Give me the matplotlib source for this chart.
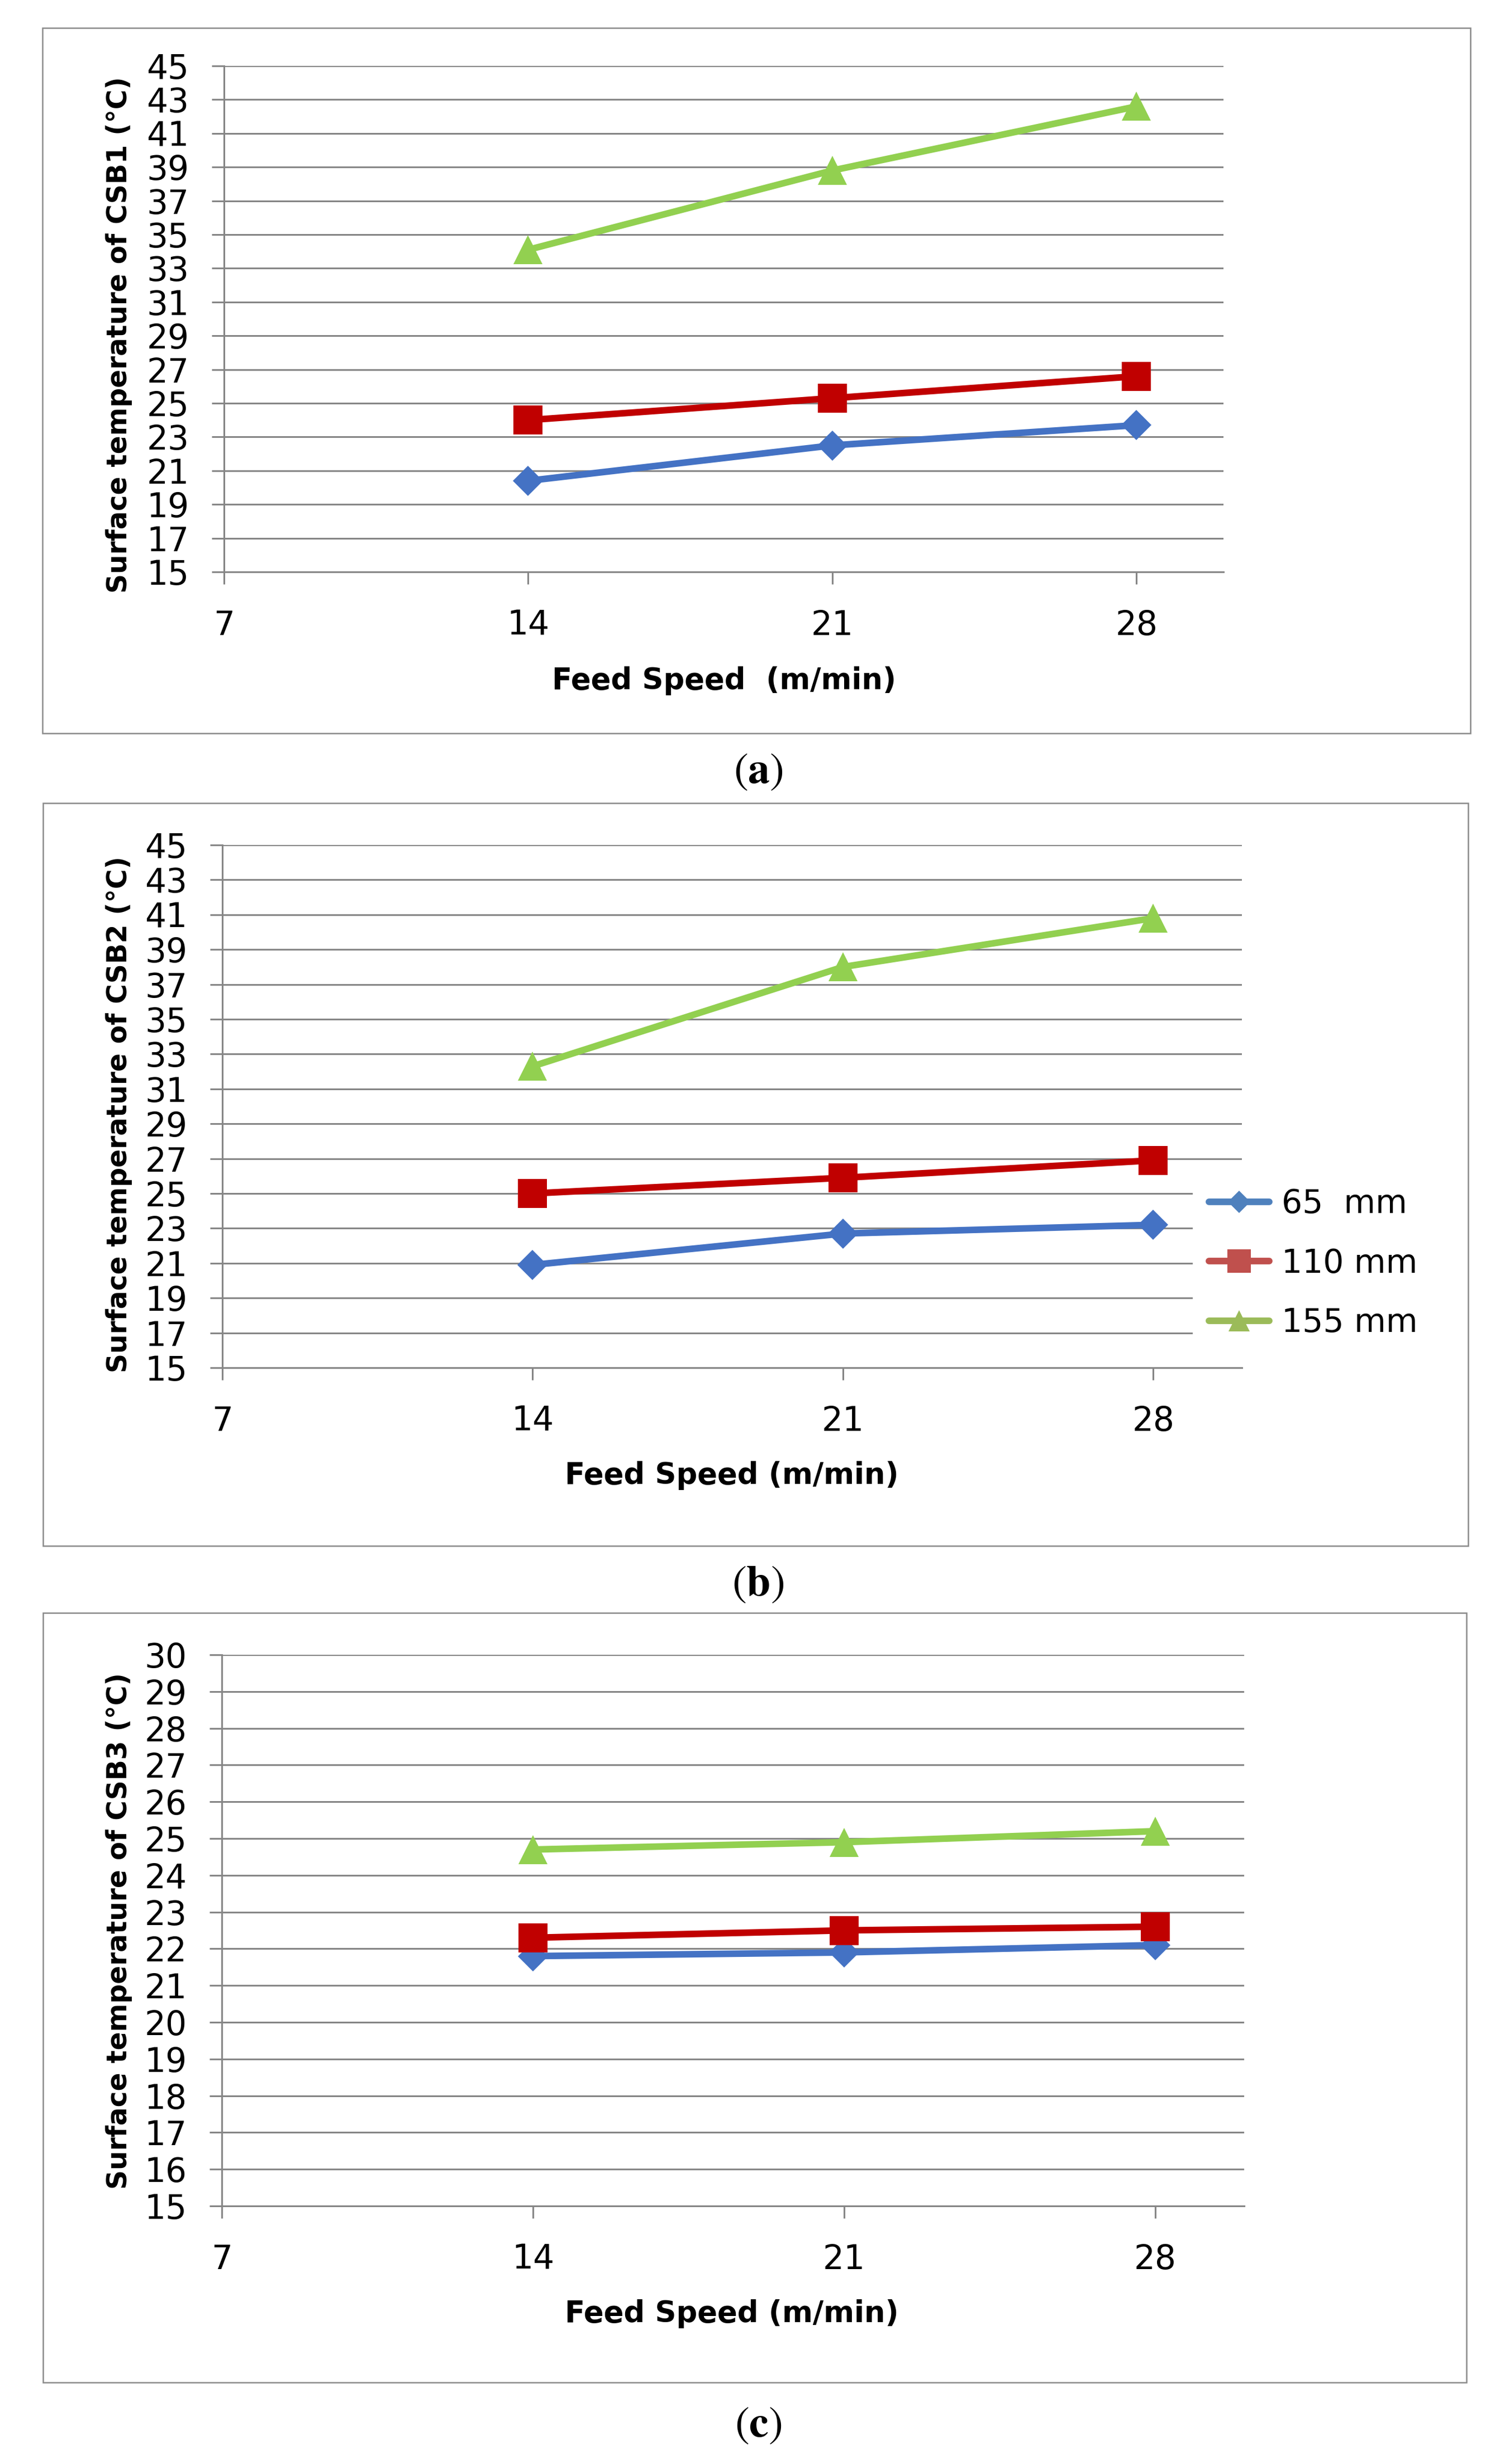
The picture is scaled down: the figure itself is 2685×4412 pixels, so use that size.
import matplotlib as mpl
mpl.use('Agg')
from matplotlib import pyplot as plt
from matplotlib.patches import Rectangle
from matplotlib.lines import Line2D

##########################################################################################
# data

# feed speed (m/min)
speed = [14, 21, 28]

# surface temperature (deg C) for the three distances
csb1_65 = [20.4, 22.5, 23.7]
csb1_110 = [24.0, 25.3, 26.6]
csb1_155 = [34.1, 38.8, 42.6]

csb2_65 = [20.9, 22.7, 23.2]
csb2_110 = [25.0, 25.9, 26.9]
csb2_155 = [32.3, 38.0, 40.8]

csb3_65 = [21.8, 21.9, 22.1]
csb3_110 = [22.3, 22.5, 22.6]
csb3_155 = [24.7, 24.9, 25.2]

series_labels = ['65  mm', '110 mm', '155 mm']
xticks = [7, 14, 21, 28]
yticks_ab = list(range(15, 46, 2))
yticks_c = list(range(15, 31))

##########################################################################################
# styling

W, H = 2685, 4412
DPI = 100

mpl.rcParams['mathtext.fontset'] = 'stix'

gray = '#868686'
lineColors = ['#4472C4', '#C00000', '#92D050']
legColors = ['#4F81BD', '#C0504D', '#9BBB59']
markers = ['D', 's', '^']
markerSizes = [27, 37, 38]
legMarkerSizes = [20, 30, 28]

narrow = ['Liberation Sans Narrow', 'DejaVu Sans Condensed', 'DejaVu Sans']


def fig_rect(x0, y0, x1, y1):
    # pixel box (top-left origin) -> figure fraction [l, b, w, h]
    return [x0 / W, 1.0 - y1 / H, (x1 - x0) / W, (y1 - y0) / H]


panels = [
    dict(ax=(401, 118, 2190, 1024), box=(76, 50, 2632, 1313),
         series=[csb1_65, csb1_110, csb1_155], ylim=(15, 45), yticks=yticks_ab,
         ylabel='Surface temperature of CSB1 (°C)', ylabelY=600,
         xlabel='Feed Speed  (m/min)', xlabelXY=(1296, 1219),
         caption=r'$(\mathbf{a})$', captionY=1380, legend=False),
    dict(ax=(398, 1513, 2223, 2449), box=(77, 1438, 2628, 2768),
         series=[csb2_65, csb2_110, csb2_155], ylim=(15, 45), yticks=yticks_ab,
         ylabel='Surface temperature of CSB2 (°C)', ylabelY=1996,
         xlabel='Feed Speed (m/min)', xlabelXY=(1310, 2642),
         caption=r'$(\mathbf{b})$', captionY=2835, legend=True),
    dict(ax=(397, 2963, 2227, 3950), box=(77, 2888, 2625, 4266),
         series=[csb3_65, csb3_110, csb3_155], ylim=(15, 30), yticks=yticks_c,
         ylabel='Surface temperature of CSB3 (°C)', ylabelY=3458,
         xlabel='Feed Speed (m/min)', xlabelXY=(1310, 4143),
         caption=r'$(\mathbf{c})$', captionY=4341, legend=False),
]

fig = plt.figure(figsize=(W / DPI, H / DPI), dpi=DPI)

for p in panels:
    ######################################################################################
    # outer frame of the chart
    x0, y0, x1, y1 = p['box']
    l, b, w, h = fig_rect(x0, y0, x1, y1)
    fig.add_artist(Rectangle((l, b), w, h, transform=fig.transFigure,
                             fill=False, edgecolor='#8a8a8a', lw=1.8))

    ax = fig.add_axes(fig_rect(*p['ax']))

    for vals, c, m, ms, lab in zip(p['series'], lineColors, markers, markerSizes,
                                   series_labels):
        ax.plot(speed, vals, color=c, lw=8.5, marker=m, ms=ms,
                markeredgewidth=0, label=lab, zorder=3, clip_on=False)

    ax.set_xlim(7, 30)
    ax.set_ylim(*p['ylim'])
    ax.set_xticks(xticks)
    ax.set_yticks(p['yticks'])

    ax.spines['top'].set_visible(False)
    ax.spines['right'].set_visible(False)
    for s in ['left', 'bottom']:
        ax.spines[s].set_color(gray)
        ax.spines[s].set_linewidth(2.2)

    ax.yaxis.grid(True, color=gray, lw=2.2)
    ax.set_axisbelow(True)

    ax.tick_params(axis='y', direction='out', length=16, width=2.2, color=gray,
                   pad=29, labelsize=43)
    ax.tick_params(axis='x', direction='out', length=16, width=2.2, color=gray,
                   pad=32, labelsize=43)
    for lab in ax.get_xticklabels() + ax.get_yticklabels():
        lab.set_family(narrow)

    ######################################################################################
    # labels
    fig.text(213 / W, 1 - p['ylabelY'] / H, p['ylabel'], rotation=90,
             ha='center', va='center', fontsize=35, fontweight='bold',
             family='DejaVu Sans')
    fx, fy = p['xlabelXY']
    fig.text(fx / W, 1 - fy / H, p['xlabel'], ha='center', va='center',
             fontsize=38, fontweight='bold', family=narrow)
    fig.text(1357 / W, 1 - p['captionY'] / H, p['caption'], ha='center',
             va='center', fontsize=56)

    ######################################################################################
    # legend (only in the middle chart)
    if p['legend']:
        handles = [Line2D([], [], color=c, lw=8.5, marker=m, ms=ms,
                          markeredgewidth=0, solid_capstyle='round')
                   for c, m, ms in zip(legColors, markers, legMarkerSizes)]
        fig.legend(handles, series_labels, loc='center left',
                   bbox_to_anchor=(2135 / W, 1 - 2262 / H),
                   bbox_transform=fig.transFigure, frameon=True,
                   facecolor='white', edgecolor='none', framealpha=1.0,
                   fancybox=False, borderpad=0.5, handlelength=1.85,
                   handletextpad=0.38, labelspacing=0.85, borderaxespad=0,
                   numpoints=1, prop=dict(family=narrow, size=42))

fig.savefig('out.png', dpi=DPI, facecolor='white')
